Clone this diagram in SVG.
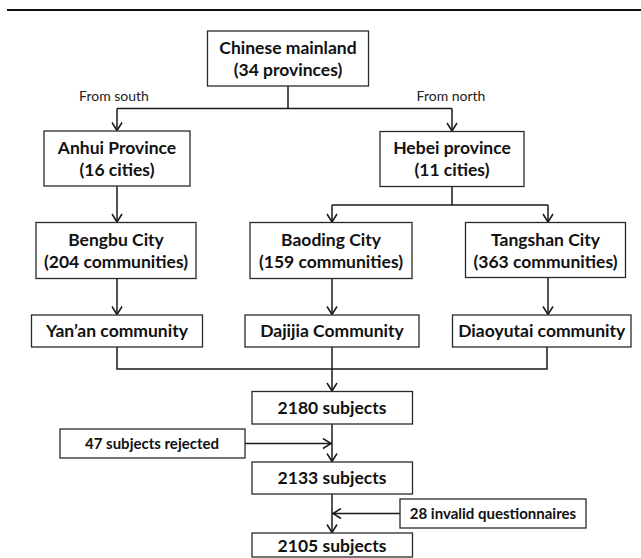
<svg xmlns="http://www.w3.org/2000/svg" width="641" height="558" viewBox="0 0 641 558">
<defs>
<marker id="arr" markerUnits="userSpaceOnUse" markerWidth="12" markerHeight="12" viewBox="-10 -6 12 12" refX="0" refY="0" orient="auto">
<path d="M-8,-5 L0,0 L-8,5" fill="none" stroke="#1a1a1a" stroke-width="1.5"/>
</marker>
</defs>
<style>
.box{fill:#fff;stroke:#2a2a2a;stroke-width:1.3}
.t{font-family:Lato,"Liberation Sans",sans-serif;font-weight:bold;font-size:17.5px;fill:#111;text-anchor:middle}
.s{font-family:Lato,"Liberation Sans",sans-serif;font-weight:bold;font-size:15px;fill:#111;text-anchor:middle}
.l{font-family:Lato,"Liberation Sans",sans-serif;font-size:14px;fill:#222;text-anchor:middle}
.c{fill:none;stroke:#1a1a1a;stroke-width:1.5}
.ca{fill:none;stroke:#1a1a1a;stroke-width:1.5;marker-end:url(#arr)}
</style>
<rect width="641" height="558" fill="#fff"/>
<line x1="7" y1="10" x2="641" y2="10" stroke="#111" stroke-width="2"/>
<g id="connectors">
<path class="c" d="M288,86 V108.5 M117,108.5 H452"/>
<path class="ca" d="M117,108.5 V130.5"/>
<path class="ca" d="M452,108.5 V131"/>
<path class="ca" d="M117,186 V222"/>
<path class="c" d="M452,186.5 V205 M332,205 H548"/>
<path class="ca" d="M332,205 V222"/>
<path class="ca" d="M548,205 V222"/>
<path class="ca" d="M117,278.5 V314.5"/>
<path class="ca" d="M332,278.5 V314.5"/>
<path class="ca" d="M548,278 V314.5"/>
<path class="c" d="M117,347 V369 H547 V347"/>
<path class="ca" d="M332,347 V391"/>
<path class="c" d="M332,424 V440"/>
<path class="ca" d="M332,440 V461.5"/>
<path class="ca" d="M245,443.5 H331"/>
<path class="c" d="M332,494 V510"/>
<path class="ca" d="M332,510 V532.5"/>
<path class="ca" d="M400,513.5 H333"/>
<text class="l" x="114" y="101">From south</text>
<text class="l" x="451" y="101">From north</text>
</g>
<g id="n-china"><rect class="box" x="207.5" y="31" width="161" height="55"/><text class="t" x="288" y="54">Chinese mainland</text><text class="t" x="288" y="76">(34 provinces)</text></g>
<g id="n-anhui"><rect class="box" x="44" y="131" width="146" height="55"/><text class="t" x="117" y="153.5">Anhui Province</text><text class="t" x="117" y="175.5">(16 cities)</text></g>
<g id="n-hebei"><rect class="box" x="380" y="131.5" width="144" height="55"/><text class="t" x="452" y="154">Hebei province</text><text class="t" x="452" y="176">(11 cities)</text></g>
<g id="n-bengbu"><rect class="box" x="36" y="222.5" width="160" height="56"/><text class="t" x="116" y="245.5">Bengbu City</text><text class="t" x="116" y="267.5">(204 communities)</text></g>
<g id="n-baoding"><rect class="box" x="250" y="222.5" width="162" height="56"/><text class="t" x="331" y="245.5">Baoding City</text><text class="t" x="331" y="267.5">(159 communities)</text></g>
<g id="n-tangshan"><rect class="box" x="465.5" y="222.5" width="160" height="55"/><text class="t" x="545.5" y="245.5">Tangshan City</text><text class="t" x="545.5" y="267.5">(363 communities)</text></g>
<g id="n-yanan"><rect class="box" x="31.5" y="315" width="171" height="32"/><text class="t" x="117" y="337">Yan’an community</text></g>
<g id="n-dajijia"><rect class="box" x="245" y="315" width="174" height="32"/><text class="t" x="332" y="337">Dajijia Community</text></g>
<g id="n-diaoyutai"><rect class="box" x="452.5" y="315" width="178.5" height="32"/><text class="t" x="541.7" y="337">Diaoyutai community</text></g>
<g id="n-2180"><rect class="box" x="252" y="391.5" width="160.5" height="32.5"/><text class="t" x="332" y="414">2180 subjects</text></g>
<g id="n-rejected"><rect class="box" x="60" y="429" width="185" height="29"/><text class="s" x="152" y="448.5">47 subjects rejected</text></g>
<g id="n-2133"><rect class="box" x="252" y="462" width="160.5" height="32"/><text class="t" x="332" y="484">2133 subjects</text></g>
<g id="n-invalid"><rect class="box" x="400" y="499" width="186" height="29"/><text class="s" x="493" y="518.5">28 invalid questionnaires</text></g>
<g id="n-2105"><rect class="box" x="252" y="533" width="160.5" height="24"/><text class="t" x="332" y="552">2105 subjects</text></g>
</svg>
